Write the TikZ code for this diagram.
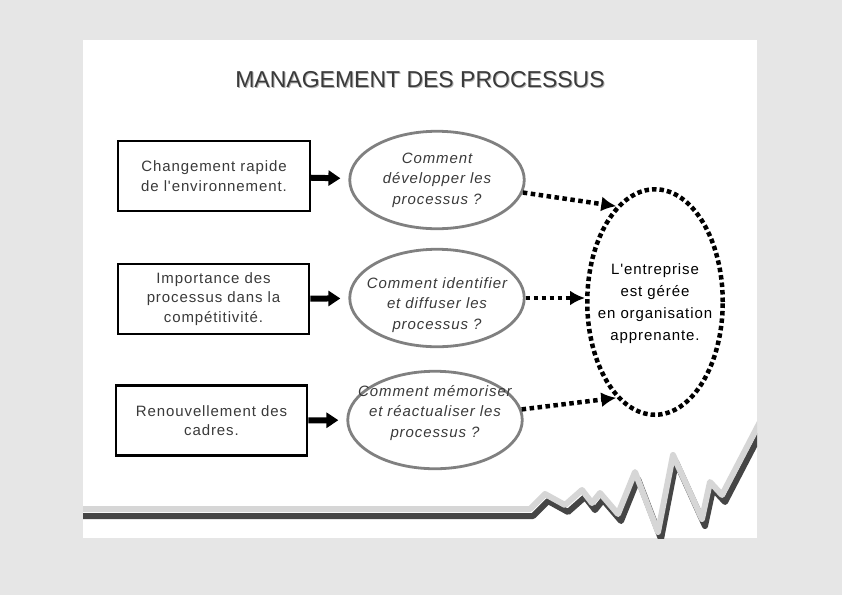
\documentclass[tikz,border=0pt]{standalone}
\usepackage{fontspec}
\setmainfont{Liberation Sans}
\newfontfamily\corps[LetterSpace=6]{Liberation Sans}
\usetikzlibrary{arrows.meta,shapes.geometric}
\definecolor{fond}{HTML}{E6E6E6}
\definecolor{texte}{HTML}{3A3A3A}
\definecolor{ombre}{HTML}{B0B0B0}
\definecolor{trait}{HTML}{808080}
\definecolor{zigclair}{HTML}{D6D6D6}
\definecolor{zigfonce}{HTML}{454545}
\newcommand{\ZigZag}{(80,509)--(530,509)--(545,494)--(565,505)--(582,490)--(592,503)--(600,493)--(618,514)--(635,472)--(658,532)--(673,455)--(702,519)--(710,482)--(722,495)--(762,418)}
\tikzset{
  titre/.style={font=\fontsize{23}{26}\selectfont,text=texte,inner sep=0pt},
  cause/.style={draw=black,line width=2.4pt,minimum width=191.5pt,minimum height=70pt,inner sep=0pt,
    align=center,font=\corps\fontsize{15}{19.5}\selectfont,text=texte},
  question/.style={ellipse,draw=trait,line width=2.8pt,minimum width=174.5pt,minimum height=97.5pt,inner sep=0pt},
  qtexte/.style={align=center,font=\corps\itshape\fontsize{15}{20.5}\selectfont,text=texte},
  but/.style={ellipse,draw=black,line width=4.5pt,dash pattern=on 4.5pt off 3pt,
    minimum width=135.5pt,minimum height=225.5pt,inner sep=0pt},
  btexte/.style={align=center,font=\corps\fontsize{15}{22}\selectfont,text=black},
  fleche/.style={-{Triangle[length=12pt,width=15pt]},line width=6pt,shorten >=8pt},
  pointille/.style={-{Latex[length=15pt,width=15pt]},line width=4.5pt,dash pattern=on 4.5pt off 3.5pt},
}
\begin{document}
\begin{tikzpicture}[x=1pt,y=-1pt]
  \useasboundingbox (0,0) rectangle (842,595);
  % fond et diapositive
  \fill[fond] (0,0) rectangle (842,595);
  \fill[white] (83,40) rectangle (757,538);
  % titre
  \node[titre,text=ombre] at (421,81) {MANAGEMENT DES PROCESSUS};
  \node[titre] (titre) at (420,80) {MANAGEMENT DES PROCESSUS};
  % causes
  \node[cause] (b1) at (214,176) {Changement rapide\\de l'environnement.};
  \node[cause] (b2) at (213.5,299) {Importance des\\processus dans la\\compétitivité.};
  \node[cause] (b3) at (211.5,420.5) {Renouvellement des\\cadres.};
  % questions
  \node[question,label={[qtexte]center:{Comment\\développer les\\processus ?}}] (e1) at (437,180) {};
  \node[question,label={[qtexte,yshift=-7pt]center:{Comment identifier\\et diffuser les\\processus ?}}] (e2) at (437,298) {};
  \node[question,label={[qtexte,yshift=7pt]center:{Comment mémoriser\\et réactualiser les\\processus ?}}] (e3) at (435,420) {};
  % but
  \node[but,label={[btexte,yshift=-2pt]center:{L'entreprise\\est gérée\\en organisation\\apprenante.}}] (org) at (655,302) {};
  % fleches
  \draw[fleche] (b1) -- (e1);
  \draw[fleche] (b2) -- (e2);
  \draw[fleche] (b3) -- (e3);
  \draw[pointille] (e1) -- (org.112);
  \draw[pointille] (e2.east) -- (e2.east -| org.west);
  \draw[pointille] (e3) -- (org.248);
  % ligne brisee
  \begin{scope}
    \clip (83,40) rectangle (757,538);
    \draw[zigfonce,line width=6pt,line join=round,shift={(3,7)}] \ZigZag;
    \draw[zigclair,line width=6pt,line join=round] \ZigZag;
  \end{scope}
\end{tikzpicture}
\end{document}
